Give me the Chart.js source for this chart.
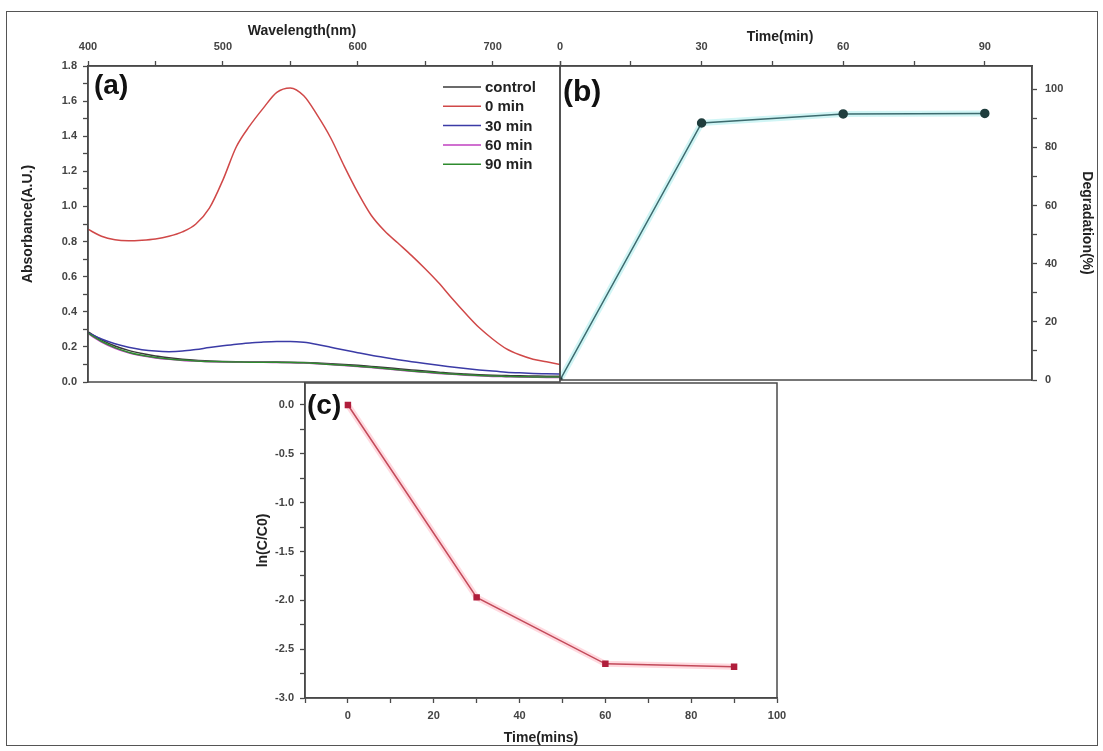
<!DOCTYPE html>
<html>
<head>
<meta charset="utf-8">
<title>Absorbance, degradation and kinetics</title>
<script src="https://cdn.jsdelivr.net/npm/chart.js@4.4.1/dist/chart.umd.min.js"></script>
<style>
  html, body { margin: 0; padding: 0; background: #fff; }
  #wrap { position: relative; width: 1103px; height: 751px; overflow: hidden; }
  #wrap canvas { position: absolute; left: 0; top: 0; }
  #frame { position: absolute; left: 6px; top: 11px; width: 1090px; height: 733px; border: 1.5px solid #555; }
</style>
</head>
<body>
<div id="wrap">
  <div id="frame"></div>
  <canvas id="spectra" width="1103" height="751"></canvas>
  <canvas id="degradation" width="1103" height="751"></canvas>
  <canvas id="kinetics" width="1103" height="751"></canvas>
</div>
<script>
// (a) UV-vis spectra, one value every 10 nm
const wavelengths = [400, 410, 420, 430, 440, 450, 460, 470, 480, 490, 500, 510, 520, 530, 540, 550, 560, 570,
  580, 590, 600, 610, 620, 630, 640, 650, 660, 670, 680, 690, 700, 710, 720, 730, 740, 750];
const absControl = [0.285, 0.24, 0.205, 0.18, 0.162, 0.148, 0.138, 0.13, 0.124, 0.12, 0.117, 0.115, 0.114, 0.114,
  0.114, 0.113, 0.111, 0.108, 0.104, 0.1, 0.095, 0.089, 0.083, 0.076, 0.069, 0.062, 0.056, 0.05, 0.046, 0.042,
  0.039, 0.037, 0.035, 0.034, 0.033, 0.033];
const abs0min = [0.87, 0.83, 0.81, 0.805, 0.808, 0.815, 0.83, 0.855, 0.9, 0.99, 1.15, 1.34, 1.46, 1.56, 1.65, 1.675,
  1.63, 1.52, 1.39, 1.23, 1.08, 0.95, 0.86, 0.79, 0.72, 0.645, 0.565, 0.475, 0.39, 0.31, 0.245, 0.19, 0.155, 0.13,
  0.115, 0.1];
const abs30min = [0.28, 0.245, 0.218, 0.198, 0.184, 0.176, 0.173, 0.176, 0.185, 0.196, 0.206, 0.215, 0.222, 0.228,
  0.231, 0.231, 0.226, 0.214, 0.198, 0.182, 0.167, 0.152, 0.139, 0.127, 0.116, 0.105, 0.095, 0.086, 0.077, 0.069,
  0.062, 0.056, 0.052, 0.049, 0.047, 0.045];
const abs60min = [0.275, 0.228, 0.192, 0.166, 0.149, 0.137, 0.129, 0.123, 0.119, 0.116, 0.114, 0.113, 0.112, 0.112,
  0.111, 0.11, 0.108, 0.104, 0.099, 0.094, 0.088, 0.082, 0.075, 0.068, 0.061, 0.055, 0.049, 0.044, 0.039, 0.035,
  0.032, 0.03, 0.028, 0.027, 0.026, 0.026];
const abs90min = [0.278, 0.232, 0.196, 0.17, 0.152, 0.14, 0.131, 0.125, 0.12, 0.117, 0.115, 0.114, 0.113, 0.113,
  0.112, 0.111, 0.109, 0.105, 0.1, 0.095, 0.09, 0.084, 0.077, 0.07, 0.063, 0.057, 0.051, 0.046, 0.041, 0.037,
  0.034, 0.032, 0.03, 0.029, 0.028, 0.028];
const spectraLabels = ['control', '0 min', '30 min', '60 min', '90 min'];
const spectraColors = ['#3a3a3a', '#d04848', '#3b3ba6', '#c040c0', '#2e8b2e'];

// (b) degradation vs time
const timeMin = [0, 30, 60, 90];
const degradation = [0, 88.4, 91.5, 91.7];

// (c) first-order kinetics
const timeMins = [0, 30, 60, 90];
const lnRatio = [0, -1.97, -2.65, -2.68];

const FONT = '"Liberation Sans", Arial, sans-serif';
const AXIS = '#4a4a4a';
const tickFont = { family: FONT, size: 11, weight: 'bold' };
const titleFont = { family: FONT, size: 14, weight: 'bold' };

const toXY = (xs, ys) => xs.map((x, i) => ({ x, y: ys[i] }));

// Common axis look: outward ticks, no grid inside the plot, thick border
function axis(extra) {
  return Object.assign({
    type: 'linear',
    grid: { drawOnChartArea: false, tickLength: 5, tickColor: AXIS, tickWidth: 1.3 },
    border: { color: AXIS, width: 1.5 },
  }, extra);
}
function ticks(extra) {
  return Object.assign({ font: tickFont, color: '#444', autoSkip: false, maxRotation: 0, includeBounds: false }, extra);
}

// Frame around the plot area, panel letter and optional free-standing caption
const panelDecor = {
  id: 'panelDecor',
  afterDraw(chart, args, opts) {
    const { ctx, chartArea: a } = chart;
    ctx.save();
    ctx.strokeStyle = AXIS;
    ctx.lineWidth = 1.5;
    ctx.strokeRect(a.left, a.top, a.right - a.left, a.bottom - a.top);
    ctx.fillStyle = '#111';
    ctx.textBaseline = 'alphabetic';
    ctx.font = `bold ${opts.size}px ${FONT}`;
    ctx.fillText(opts.label, a.left + opts.dx, a.top + opts.dy);
    if (opts.caption) {
      ctx.font = `bold 14px ${FONT}`;
      ctx.fillStyle = '#222';
      ctx.textAlign = 'center';
      ctx.textBaseline = 'middle';
      ctx.fillText(opts.caption.text, opts.caption.x, opts.caption.y);
    }
    ctx.restore();
  }
};

// Line legend inside panel (a)
const lineLegend = {
  id: 'lineLegend',
  afterDraw(chart, args, opts) {
    const { ctx, chartArea: a } = chart;
    ctx.save();
    ctx.font = `bold 15px ${FONT}`;
    ctx.textBaseline = 'middle';
    chart.data.datasets.forEach((ds, i) => {
      const y = a.top + opts.top + i * opts.step;
      const x0 = a.left + opts.left;
      ctx.strokeStyle = ds.borderColor;
      ctx.lineWidth = 1.5;
      ctx.beginPath();
      ctx.moveTo(x0, y);
      ctx.lineTo(x0 + 38, y);
      ctx.stroke();
      ctx.fillStyle = '#222';
      ctx.fillText(ds.label, x0 + 42, y + 1);
    });
    ctx.restore();
  }
};

const baseOptions = {
  responsive: false,
  animation: false,
  events: [],
};

// (a) spectra
new Chart(document.getElementById('spectra'), {
  type: 'line',
  data: {
    datasets: [absControl, abs0min, abs30min, abs60min, abs90min].map((vals, i) => ({
      label: spectraLabels[i],
      data: toXY(wavelengths, vals),
      borderColor: spectraColors[i],
      borderWidth: 1.5,
      pointRadius: 0,
      cubicInterpolationMode: 'monotone',
      order: 4 - i,
    }))
  },
  options: Object.assign({}, baseOptions, {
    layout: { padding: { left: 16, right: 543, top: 20, bottom: 369 } },
    scales: {
      x: axis({
        position: 'top', min: 400, max: 750,
        ticks: ticks({ stepSize: 50, padding: 7, callback: v => (v % 100 === 0 ? v : '') }),
        afterFit: s => { s.height = 46; }
      }),
      y: axis({
        position: 'left', min: 0, max: 1.8,
        ticks: ticks({ stepSize: 0.1, padding: 6, callback: v => (Math.round(v * 10) % 2 === 0 ? v.toFixed(1) : '') }),
        title: { display: true, text: 'Absorbance(A.U.)', font: titleFont, color: '#222', padding: { top: 4, bottom: 0 } },
        afterFit: s => { s.width = 72; }
      })
    },
    plugins: {
      legend: { display: false },
      tooltip: { enabled: false },
      panelDecor: { label: '(a)', dx: 6, dy: 28, size: 28, caption: { text: 'Wavelength(nm)', x: 302, y: 31 } },
      lineLegend: { left: 355, top: 21, step: 19.3 }
    }
  }),
  plugins: [panelDecor, lineLegend]
});

// (b) degradation percentage
new Chart(document.getElementById('degradation'), {
  type: 'line',
  data: {
    datasets: [
      {
        data: toXY(timeMin, degradation),
        borderColor: '#3d6b6e',
        borderWidth: 1.5,
        pointStyle: ['rect', 'circle', 'circle', 'circle'],
        pointRadius: [2.5, 4, 4, 4],
        pointBackgroundColor: '#1f3d3d',
        pointBorderColor: '#1f3d3d',
        order: 0
      },
      {
        data: toXY(timeMin, degradation),
        borderColor: 'rgba(120, 225, 225, 0.35)',
        borderWidth: 6,
        pointRadius: 0,
        order: 1
      }
    ]
  },
  options: Object.assign({}, baseOptions, {
    layout: { padding: { left: 560, right: 4, top: 26, bottom: 371 } },
    scales: {
      x: axis({
        position: 'top', min: 0, max: 100,
        ticks: ticks({ stepSize: 15, padding: 7, callback: v => (v % 30 === 0 ? v : '') }),
        afterFit: s => { s.height = 40; }
      }),
      y: axis({
        position: 'right', min: 0, max: 108,
        ticks: ticks({ stepSize: 10, padding: 8, callback: v => (v % 20 === 0 ? v : '') }),
        title: { display: true, text: 'Degradation(%)', font: titleFont, color: '#222', padding: { top: 4, bottom: 0 } },
        afterFit: s => { s.width = 67; }
      })
    },
    plugins: {
      legend: { display: false },
      tooltip: { enabled: false },
      panelDecor: { label: '(b)', dx: 3, dy: 35, size: 30, caption: { text: 'Time(min)', x: 780, y: 37 } }
    }
  }),
  plugins: [panelDecor]
});

// (c) ln(C/C0) vs time
new Chart(document.getElementById('kinetics'), {
  type: 'line',
  data: {
    datasets: [
      {
        data: toXY(timeMins, lnRatio),
        borderColor: '#c24a5a',
        borderWidth: 1.5,
        pointStyle: 'rect',
        pointRadius: 3.5,
        pointBackgroundColor: '#b01e3c',
        pointBorderColor: '#b01e3c',
        order: 0
      },
      {
        data: toXY(timeMins, lnRatio),
        borderColor: 'rgba(255, 130, 150, 0.3)',
        borderWidth: 6,
        pointRadius: 0,
        order: 1
      }
    ]
  },
  options: Object.assign({}, baseOptions, {
    layout: { padding: { left: 251, right: 326, top: 383, bottom: 0 } },
    scales: {
      x: axis({
        position: 'bottom', min: -10, max: 100,
        ticks: ticks({ stepSize: 10, padding: 6, callback: v => (v >= 0 && v % 20 === 0 ? v : '') }),
        title: { display: true, text: 'Time(mins)', font: titleFont, color: '#222', padding: { top: 0, bottom: 4 } },
        afterFit: s => { s.height = 53; }
      }),
      y: axis({
        position: 'left', min: -3, max: 0.225,
        ticks: ticks({ stepSize: 0.25, padding: 6, callback: v => (Math.round(v * 4) % 2 === 0 ? v.toFixed(1) : '') }),
        title: { display: true, text: 'ln(C/C0)', font: titleFont, color: '#222', padding: { top: 4, bottom: 0 } },
        afterFit: s => { s.width = 54; }
      })
    },
    plugins: {
      legend: { display: false },
      tooltip: { enabled: false },
      panelDecor: { label: '(c)', dx: 2, dy: 31, size: 28 }
    }
  }),
  plugins: [panelDecor]
});
</script>
</body>
</html>
